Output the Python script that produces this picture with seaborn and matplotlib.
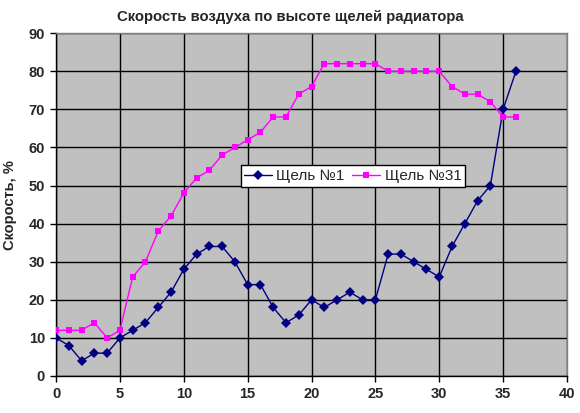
import matplotlib
matplotlib.use("Agg")
import matplotlib.pyplot as plt
import seaborn as sns
import pandas as pd

x_vals = list(range(37))
slot1 = [10, 8, 4, 6, 6, 10, 12, 14, 18, 22, 28, 32, 34, 34, 30, 24, 24, 18, 14, 16,
         20, 18, 20, 22, 20, 20, 32, 32, 30, 28, 26, 34, 40, 46, 50, 70, 80]
slot31 = [12, 12, 12, 14, 10, 12, 26, 30, 38, 42, 48, 52, 54, 58, 60, 62, 64, 68, 68, 74,
          76, 82, 82, 82, 82, 82, 80, 80, 80, 80, 80, 76, 74, 74, 72, 68, 68]
series_names = ["Щель №1", "Щель №31"]
title = "Скорость воздуха по высоте щелей радиатора"
ylabel = "Скорость, %"

df = pd.concat([
    pd.DataFrame({"x": x_vals, "y": slot1, "s": series_names[0]}),
    pd.DataFrame({"x": x_vals, "y": slot31, "s": series_names[1]}),
])

sns.set_theme(style="white")
plt.rcParams["font.family"] = ["Liberation Sans", "DejaVu Sans"]

fig = plt.figure(figsize=(5.8, 4.13), dpi=100)
ax = fig.add_axes([0.0966, 0.0896, 0.881, 0.830])
ax.set_facecolor("#C0C0C0")

sns.lineplot(data=df, x="x", y="y", hue="s", style="s",
             palette={series_names[0]: "#000080", series_names[1]: "#FF00FF"},
             markers={series_names[0]: "D", series_names[1]: "s"},
             dashes=False, linewidth=1.0, markersize=5, markeredgewidth=0,
             ax=ax, zorder=3)

ax.set_xlim(0, 40)
ax.set_ylim(0, 90)
ax.set_xticks(range(0, 41, 5))
ax.set_yticks(range(0, 91, 10))
ax.grid(True, color="black", linewidth=1.0)
ax.set_axisbelow(True)
for sp in ["top", "right"]:
    ax.spines[sp].set_color("#808080")
    ax.spines[sp].set_linewidth(1.0)
for sp in ["left", "bottom"]:
    ax.spines[sp].set_color("black")
    ax.spines[sp].set_linewidth(1.0)
ax.tick_params(axis="both", direction="out", length=4, width=1, color="black",
               labelsize=10.5, pad=4, left=True, bottom=True)
for lab in ax.get_xticklabels() + ax.get_yticklabels():
    lab.set_fontweight("bold")
ax.set_xlabel("")
ax.set_ylabel(ylabel, fontsize=10.5, fontweight="bold", labelpad=8)
fig.suptitle(title, fontsize=10.75, fontweight="bold", y=0.975)

leg = ax.legend(loc="center", bbox_to_anchor=(0.581, 0.583), ncol=2, frameon=True,
                fancybox=False, fontsize=11, handlelength=1.8, columnspacing=0.5,
                borderpad=0.25, handletextpad=0.3, borderaxespad=0)
leg.get_frame().set_edgecolor("black")
leg.get_frame().set_facecolor("white")
leg.get_frame().set_alpha(1)
leg.get_frame().set_linewidth(1.0)
for h in leg.legend_handles:
    h.set_markersize(5)

fig.savefig("out.png", dpi=100)
